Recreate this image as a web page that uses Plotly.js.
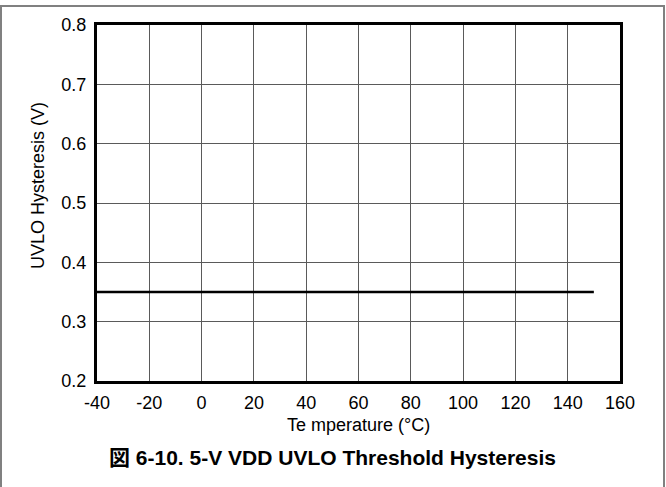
<!DOCTYPE html>
<html>
<head>
<meta charset="utf-8">
<script src="https://cdn.plot.ly/plotly-3.0.1.min.js"></script>
<style>
html,body{margin:0;padding:0;background:#fff;}
#chart{width:666px;height:487px;}
</style>
</head>
<body>
<div id="chart"></div>
<script>
// Data
const temperature = [-40, -20, 0, 20, 40, 60, 80, 100, 120, 140, 150];
const hysteresis = [0.35, 0.35, 0.35, 0.35, 0.35, 0.35, 0.35, 0.35, 0.35, 0.35, 0.35];
const xTicks = [-40, -20, 0, 20, 40, 60, 80, 100, 120, 140, 160];
const yTicks = [0.2, 0.3, 0.4, 0.5, 0.6, 0.7, 0.8];
const xTitle = "Te mperature (°C)";
const yTitle = "UVLO Hysteresis (V)";
const caption = "図 6-10. 5-V VDD UVLO Threshold Hysteresis";

const font = "Liberation Sans, Arial, sans-serif";
const L = 97, R = 620, T = 25, B = 381;
const W = R - L, H = B - T;
const px = x => (x - L) / W;
const py = y => (B - y) / H;

const trace = {
  x: temperature, y: hysteresis, type: 'scatter', mode: 'lines',
  line: {color: '#000', width: 2.5}, hoverinfo: 'skip', cliponaxis: false
};

const layout = {
  width: 666, height: 487,
  margin: {l: L, r: 666 - R, t: T, b: 487 - B},
  paper_bgcolor: '#fff', plot_bgcolor: '#fff',
  showlegend: false,
  font: {family: font, size: 18, color: '#000'},
  xaxis: {
    range: [-40, 160], tickvals: xTicks, ticktext: xTicks.map(String),
    showgrid: true, gridcolor: '#5a5a5a', gridwidth: 1,
    zeroline: false, showline: true, linecolor: '#000', linewidth: 3, mirror: true,
    ticks: '', ticklen: 0, ticklabelstandoff: 3,
    tickfont: {family: font, size: 18, color: '#000'},
    fixedrange: true
  },
  yaxis: {
    range: [0.2, 0.8], tickvals: yTicks, ticktext: yTicks.map(v => v.toFixed(1)),
    showgrid: true, gridcolor: '#5a5a5a', gridwidth: 1,
    zeroline: false, showline: true, linecolor: '#000', linewidth: 3, mirror: true,
    ticks: '', ticklen: 0, ticklabelstandoff: 4,
    tickfont: {family: font, size: 18, color: '#000'},
    fixedrange: true
  },
  annotations: [
    {text: xTitle, xref: 'paper', yref: 'paper', x: px(358), y: py(425),
     showarrow: false, xanchor: 'center', yanchor: 'middle',
     font: {family: font, size: 18, color: '#000'}},
    {text: yTitle, xref: 'paper', yref: 'paper', x: px(38), y: py(186),
     showarrow: false, xanchor: 'center', yanchor: 'middle', textangle: -90,
     font: {family: font, size: 18, color: '#000'}},
    {text: '<b>' + caption + '</b>', xref: 'paper', yref: 'paper', x: px(332), y: py(457),
     showarrow: false, xanchor: 'center', yanchor: 'middle',
     font: {family: "Liberation Sans, Noto Sans CJK JP, Arial, sans-serif", size: 21, color: '#000'}}
  ],
  shapes: [
    {type: 'path', xref: 'paper', yref: 'paper',
     path: `M ${px(1)} ${py(495)} L ${px(1)} ${py(6)} L ${px(664)} ${py(6)} L ${px(664)} ${py(495)}`,
     line: {color: '#808080', width: 2}, layer: 'above'}
  ]
};

Plotly.newPlot('chart', [trace], layout, {staticPlot: true, displayModeBar: false});
</script>
</body>
</html>
